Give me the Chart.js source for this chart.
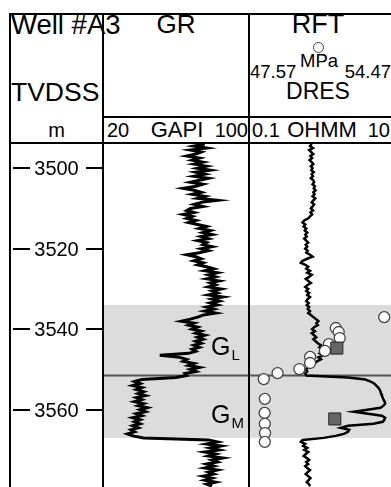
<!DOCTYPE html>
<html>
<head>
<meta charset="utf-8">
<script src="https://cdn.jsdelivr.net/npm/chart.js@4.4.0/dist/chart.umd.min.js"></script>
<style>
  body { margin: 0; width: 391px; height: 487px; overflow: hidden; background: #fff; position: relative;
         font-family: "Liberation Sans", Arial, Helvetica, sans-serif; color: #000; }
  canvas { position: absolute; }
  .ln { position: absolute; background: #000; z-index: 2; }
  .t { position: absolute; white-space: nowrap; line-height: 1; z-index: 3; }
</style>
</head>
<body>

<!-- header text -->
<div class="t" style="left:11px;top:11px;font-size:27.5px">Well #A3</div>
<div class="t" style="left:103px;width:146px;top:11px;font-size:26px;text-align:center">GR</div>
<div class="t" style="left:249px;width:138px;top:11px;font-size:27px;text-align:center">RFT</div>
<div style="position:absolute;left:313px;top:42px;width:9px;height:9px;border:1.2px solid #444;border-radius:50%;background:#fff"></div>
<div class="t" style="left:249px;width:140px;top:52px;font-size:18.5px;text-align:center">MPa</div>
<div class="t" style="left:250px;top:63px;font-size:18.5px">47.57</div>
<div class="t" style="right:0px;top:63px;font-size:18.5px">54.47</div>
<div class="t" style="left:11px;top:79px;font-size:26.5px">TVDSS</div>
<div class="t" style="left:249px;width:138px;top:80px;font-size:23px;text-align:center">DRES</div>
<div class="t" style="left:10px;width:93px;top:120px;font-size:20px;text-align:center">m</div>
<div class="t" style="left:107px;top:120px;font-size:20px">20</div>
<div class="t" style="left:137px;width:80px;top:119px;font-size:22px;text-align:center">GAPI</div>
<div class="t" style="right:143px;top:120px;font-size:20px">100</div>
<div class="t" style="left:252px;top:120px;font-size:20px">0.1</div>
<div class="t" style="left:282px;width:80px;top:119px;font-size:22px;text-align:center">OHMM</div>
<div class="t" style="right:1px;top:120px;font-size:20px">10</div>

<!-- frame -->
<div class="ln" style="left:9px;top:13px;width:382px;height:2px"></div>
<div class="ln" style="left:9px;top:13px;width:2px;height:474px"></div>
<div class="ln" style="left:102px;top:13px;width:2px;height:474px"></div>
<div class="ln" style="left:248px;top:13px;width:2px;height:474px"></div>
<div class="ln" style="left:103px;top:116px;width:288px;height:2px"></div>
<div class="ln" style="left:9px;top:142px;width:382px;height:2px"></div>

<canvas id="depthTrack" width="91" height="343" style="left:11px;top:144px"></canvas>
<canvas id="grTrack" width="144" height="343" style="left:104px;top:144px"></canvas>
<canvas id="resTrack" width="142" height="343" style="left:250px;top:144px"></canvas>

<script>
// depth axis (TVDSS, m)
const depthTicks = [3500, 3520, 3540, 3560];

// log samples, 0.5 m spacing
const depth = [
  3494, 3494.5, 3495, 3495.5, 3496, 3496.5, 3497, 3497.5, 3498, 3498.5,
  3499, 3499.5, 3500, 3500.5, 3501, 3501.5, 3502, 3502.5, 3503, 3503.5,
  3504, 3504.5, 3505, 3505.5, 3506, 3506.5, 3507, 3507.5, 3508, 3508.5,
  3509, 3509.5, 3510, 3510.5, 3511, 3511.5, 3512, 3512.5, 3513, 3513.5,
  3514, 3514.5, 3515, 3515.5, 3516, 3516.5, 3517, 3517.5, 3518, 3518.5,
  3519, 3519.5, 3520, 3520.5, 3521, 3521.5, 3522, 3522.5, 3523, 3523.5,
  3524, 3524.5, 3525, 3525.5, 3526, 3526.5, 3527, 3527.5, 3528, 3528.5,
  3529, 3529.5, 3530, 3530.5, 3531, 3531.5, 3532, 3532.5, 3533, 3533.5,
  3534, 3534.5, 3535, 3535.5, 3536, 3536.5, 3537, 3537.5, 3538, 3538.5,
  3539, 3539.5, 3540, 3540.5, 3541, 3541.5, 3542, 3542.5, 3543, 3543.5,
  3544, 3544.5, 3545, 3545.5, 3546, 3546.5, 3547, 3547.5, 3548, 3548.5,
  3549, 3549.5, 3550, 3550.5, 3551, 3551.5, 3552, 3552.5, 3553, 3553.5,
  3554, 3554.5, 3555, 3555.5, 3556, 3556.5, 3557, 3557.5, 3558, 3558.5,
  3559, 3559.5, 3560, 3560.5, 3561, 3561.5, 3562, 3562.5, 3563, 3563.5,
  3564, 3564.5, 3565, 3565.5, 3566, 3566.5, 3567, 3567.5, 3568, 3568.5,
  3569, 3569.5, 3570, 3570.5, 3571, 3571.5, 3572, 3572.5, 3573, 3573.5,
  3574, 3574.5, 3575, 3575.5, 3576, 3576.5, 3577, 3577.5, 3578, 3578.5,
  3579
];

// gamma ray, GAPI
const gr = [
  76, 70, 77, 68, 74, 71, 66, 73, 69, 75,
  70, 77, 72, 79, 71, 76, 70, 78, 73, 68,
  75, 71, 64, 70, 74, 69, 76, 72, 83, 74,
  70, 75, 68, 66, 70, 64, 69, 66, 71, 67,
  72, 77, 73, 79, 75, 80, 74, 78, 72, 77,
  75, 80, 74, 78, 73, 66, 71, 74, 70, 75,
  72, 77, 81, 76, 83, 78, 82, 77, 84, 79,
  82, 78, 85, 80, 83, 78, 86, 80, 84, 79,
  83, 77, 81, 76, 82, 75, 72, 68, 63, 70,
  67, 72, 69, 74, 71, 76, 72, 75, 71, 74,
  70, 73, 69, 71, 67, 51, 62, 66, 64, 70,
  67, 73, 68, 71, 65, 66, 60, 41, 37, 40,
  36, 41, 38, 42, 39, 43, 38, 41, 37, 42,
  39, 44, 40, 43, 38, 41, 36, 40, 37, 40,
  36, 39, 35, 37, 33, 36, 42, 78, 83, 77,
  85, 79, 84, 76, 82, 78, 86, 80, 83, 77,
  81, 76, 83, 78, 81, 75, 80, 76, 82, 77,
  80
];

// deep resistivity, ohm.m
const dres = [
  0.74, 0.70, 0.77, 0.68, 0.73, 0.78, 0.71, 0.75, 0.69, 0.74,
  0.78, 0.72, 0.76, 0.73, 0.79, 0.74, 0.77, 0.72, 0.78, 0.80,
  0.76, 0.82, 0.79, 0.84, 0.78, 0.81, 0.76, 0.83, 0.78, 0.74,
  0.80, 0.76, 0.72, 0.77, 0.71, 0.75, 0.70, 0.66, 0.58, 0.55,
  0.60, 0.57, 0.62, 0.59, 0.64, 0.60, 0.63, 0.58, 0.62, 0.66,
  0.61, 0.64, 0.60, 0.65, 0.62, 0.70, 0.76, 0.64, 0.55, 0.52,
  0.60, 0.66, 0.62, 0.70, 0.64, 0.74, 0.68, 0.61, 0.66, 0.72,
  0.65, 0.60, 0.66, 0.62, 0.68, 0.64, 0.70, 0.65, 0.62, 0.67,
  0.63, 0.68, 0.65, 0.70, 0.66, 0.72, 0.78, 0.85, 0.92, 0.86,
  0.90, 0.80, 0.75, 0.82, 0.74, 0.80, 0.86, 0.78, 0.84, 0.90,
  1.00, 0.95, 1.15, 1.05, 0.96, 1.08, 0.92, 1.00, 0.88, 0.80,
  0.72, 0.66, 0.62, 0.64, 0.60, 0.62, 2.4, 4.2, 5.0, 5.6,
  6.0, 6.4, 6.7, 6.9, 7.0, 7.2, 7.4, 7.6, 7.9, 8.0,
  7.6, 6.9, 4.5, 2.9, 4.6, 7.2, 8.0, 7.8, 7.4, 5.5,
  2.4, 1.9, 2.5, 2.4, 2.1, 1.6, 1.1, 0.55, 0.52, 0.60,
  0.56, 0.64, 0.58, 0.66, 0.61, 0.57, 0.63, 0.68, 0.62, 0.66,
  0.60, 0.64, 0.70, 0.65, 0.61, 0.66, 0.71, 0.67, 0.63, 0.68,
  0.70
];

// RFT formation pressures (circles), MPa
const rftDepth = [3537.0, 3539.7, 3540.7, 3542.2, 3543.7, 3545.4, 3546.9, 3548.4,
                  3549.9, 3550.9, 3552.4, 3557.3, 3560.8, 3563.5, 3565.8, 3568.0];
const rftPressure = [54.09, 51.74, 51.88, 51.93, 51.40, 51.21, 50.49, 50.49,
                     49.97, 48.91, 48.24, 48.29, 48.28, 48.29, 48.30, 48.29];

// extra pressure points (squares)
const rftSqDepth = [3544.7, 3562.3];
const rftSqPressure = [51.79, 51.69];

// gas zones
const zoneSub = ['L', 'M'];
const zoneTop = [3534.0, 3551.5];
const zoneBase = [3551.5, 3567.0];

const FONT = '"Liberation Sans", Arial, Helvetica, sans-serif';
const DMIN = 3494, DMAX = 3579.2;

function depthScale() {
  return { type: 'linear', reverse: true, min: DMIN, max: DMAX, display: false };
}

function baseOptions(scales, plugins) {
  return {
    responsive: false,
    animation: false,
    events: [],
    layout: { padding: 0, autoPadding: false },
    scales: scales,
    plugins: Object.assign({ legend: { display: false }, tooltip: { enabled: false } }, plugins || {})
  };
}

const depthTicksPlugin = {
  id: 'depthTicks',
  afterDraw(chart) {
    const { ctx, chartArea: a } = chart;
    const y = chart.scales.y;
    ctx.save();
    ctx.strokeStyle = '#000';
    ctx.lineWidth = 2;
    ctx.fillStyle = '#000';
    ctx.font = '20px ' + FONT;
    ctx.textAlign = 'center';
    ctx.textBaseline = 'middle';
    depthTicks.forEach(v => {
      const py = Math.round(y.getPixelForValue(v));
      ctx.beginPath();
      ctx.moveTo(a.left + 2, py); ctx.lineTo(a.left + 19, py);
      ctx.moveTo(a.right - 16, py); ctx.lineTo(a.right, py);
      ctx.stroke();
      ctx.fillText(String(v), (a.left + a.right) / 2, py + 1);
    });
    ctx.restore();
  }
};

const zonePlugin = {
  id: 'zones',
  beforeDatasetsDraw(chart) {
    const { ctx, chartArea: a } = chart;
    const y = chart.scales.y;
    ctx.save();
    ctx.fillStyle = '#dcdcdc';
    zoneTop.forEach((t, i) => {
      const y0 = y.getPixelForValue(t), y1 = y.getPixelForValue(zoneBase[i]);
      ctx.fillRect(a.left, y0, a.right - a.left, y1 - y0);
    });
    // contact between the two zones
    ctx.strokeStyle = '#555';
    ctx.lineWidth = 2;
    const c = y.getPixelForValue(zoneTop[1]);
    ctx.beginPath(); ctx.moveTo(a.left, c); ctx.lineTo(a.right, c); ctx.stroke();
    ctx.restore();
  }
};

const zoneLabelPlugin = {
  id: 'zoneLabels',
  afterDatasetsDraw(chart, args, opts) {
    const { ctx } = chart;
    const x = chart.scales.x.getPixelForValue(opts.gapi);
    ctx.save();
    ctx.fillStyle = '#000';
    ctx.textBaseline = 'alphabetic';
    zoneSub.forEach((s, i) => {
      const py = chart.scales.y.getPixelForValue(zoneBase[i] - opts.above[i]);
      ctx.font = '25px ' + FONT;
      ctx.fillText('G', x, py);
      const w = ctx.measureText('G').width;
      ctx.font = '15px ' + FONT;
      ctx.fillText(s, x + w + 1, py + 5);
    });
    ctx.restore();
  }
};

new Chart(document.getElementById('depthTrack'), {
  type: 'scatter',
  data: { datasets: [] },
  options: baseOptions({ x: { type: 'linear', min: 0, max: 1, display: false }, y: depthScale() }),
  plugins: [depthTicksPlugin]
});

new Chart(document.getElementById('grTrack'), {
  type: 'scatter',
  data: {
    datasets: [{
      label: 'GR',
      data: depth.map((d, i) => ({ x: gr[i], y: d })),
      showLine: true,
      borderColor: '#000',
      borderWidth: 3,
      pointRadius: 0,
      tension: 0
    }]
  },
  options: baseOptions(
    { x: { type: 'linear', min: 20, max: 100, display: false }, y: depthScale() },
    { zoneLabels: { gapi: 79.5, above: [5.1, 3.8] } }
  ),
  plugins: [zonePlugin, zoneLabelPlugin]
});

new Chart(document.getElementById('resTrack'), {
  type: 'scatter',
  data: {
    datasets: [{
      label: 'RFT',
      data: rftDepth.map((d, i) => ({ x: rftPressure[i], y: d })),
      xAxisID: 'xp',
      order: 1,
      pointStyle: 'circle',
      pointRadius: 5.5,
      backgroundColor: '#fff',
      borderColor: '#444',
      borderWidth: 1.3,
      clip: false
    }, {
      label: 'RFT (square)',
      data: rftSqDepth.map((d, i) => ({ x: rftSqPressure[i], y: d })),
      xAxisID: 'xp',
      order: 0,
      pointStyle: 'rect',
      pointRadius: 8.5,
      backgroundColor: '#666',
      borderColor: '#222',
      borderWidth: 1,
      clip: false
    }, {
      label: 'DRES',
      data: depth.map((d, i) => ({ x: dres[i], y: d })),
      xAxisID: 'xr',
      order: 2,
      showLine: true,
      borderColor: '#000',
      borderWidth: 2.5,
      pointRadius: 0,
      tension: 0
    }]
  },
  options: baseOptions({
    xr: { type: 'logarithmic', min: 0.1, max: 10, display: false },
    xp: { type: 'linear', min: 47.57, max: 54.47, display: false },
    y: depthScale()
  }),
  plugins: [zonePlugin]
});
</script>
</body>
</html>
